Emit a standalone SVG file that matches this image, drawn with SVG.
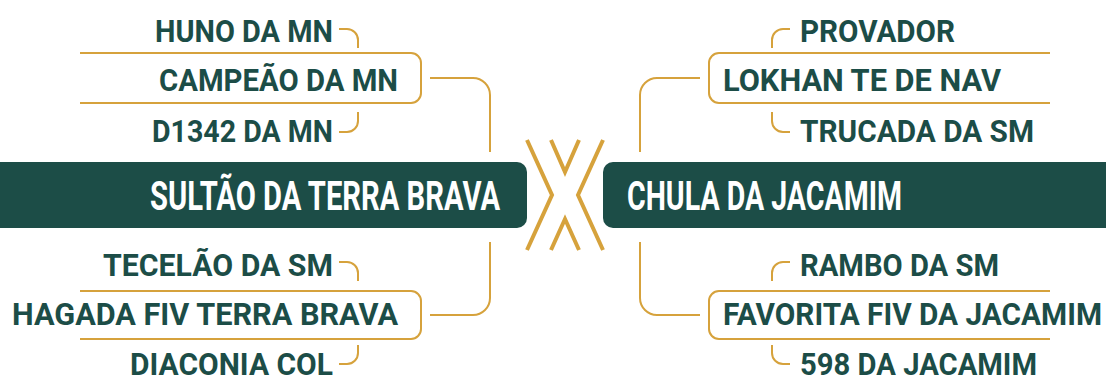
<svg xmlns="http://www.w3.org/2000/svg" width="1106" height="378" viewBox="0 0 1106 378">
<style>
.bg{fill:#ffffff}
.banner{fill:#1c4d47}
.main{font-family:Roboto,"Liberation Sans",sans-serif;font-weight:700;font-size:41px;fill:#ffffff}
.name{font-family:Roboto,"Liberation Sans",sans-serif;font-weight:700;font-size:32px;fill:#1c4d47}
.ln{fill:none;stroke:#d6a23c;stroke-width:2}
.x{fill:none;stroke:#d6a23c;stroke-width:4}
</style>
<rect class="bg" x="0" y="0" width="1106" height="378"/>
<g id="connectors">
  <path class="ln" d="M430,78 H473 A17,17 0 0 1 490,95 V152"/>
  <path class="ln" d="M490,242 V298 A17,17 0 0 1 473,315 H430"/>
  <path class="ln" d="M700,78 H657 A17,17 0 0 0 640,95 V152"/>
  <path class="ln" d="M640,242 V298 A17,17 0 0 0 657,315 H700"/>
  <path class="ln" d="M339,29 H347 A11,11 0 0 1 358,40 V48"/>
  <path class="ln" d="M358,112 V121 A11,11 0 0 1 347,132 H339"/>
  <path class="ln" d="M339,262 H347 A11,11 0 0 1 358,273 V281"/>
  <path class="ln" d="M358,345 V353 A11,11 0 0 1 347,364 H339"/>
  <path class="ln" d="M790,29 H783 A11,11 0 0 0 772,40 V48"/>
  <path class="ln" d="M772,112 V121 A11,11 0 0 0 783,132 H790"/>
  <path class="ln" d="M790,262 H783 A11,11 0 0 0 772,273 V281"/>
  <path class="ln" d="M772,345 V353 A11,11 0 0 0 783,364 H790"/>
</g>
<g id="versus">
  <polyline class="x" points="527,140 552,195 527,250"/>
  <polyline class="x" points="603,140 578,195 603,250"/>
  <polyline class="x" points="551,140 565,172 579,140"/>
  <polyline class="x" points="551,250 565,219 579,250"/>
</g>
<g id="sultao">
  <rect class="banner" x="-20" y="162" width="547" height="66" rx="10"/>
  <text class="main" x="500" y="210" text-anchor="end" textLength="350" lengthAdjust="spacingAndGlyphs">SULTÃO DA TERRA BRAVA</text>
</g>
<g id="chula">
  <rect class="banner" x="603" y="162" width="523" height="66" rx="10"/>
  <text class="main" x="627" y="210" textLength="275" lengthAdjust="spacingAndGlyphs">CHULA DA JACAMIM</text>
</g>
<g id="campeao">
  <path class="ln" d="M80,53 H411 A10,10 0 0 1 421,63 V93 A10,10 0 0 1 411,103 H80"/>
  <text class="name" x="398" y="91" text-anchor="end" textLength="239" lengthAdjust="spacingAndGlyphs">CAMPEÃO DA MN</text>
</g>
<g id="huno">
  <text class="name" x="333" y="42" text-anchor="end" textLength="178" lengthAdjust="spacingAndGlyphs">HUNO DA MN</text>
</g>
<g id="d1342">
  <text class="name" x="333" y="142" text-anchor="end" textLength="181" lengthAdjust="spacingAndGlyphs">D1342 DA MN</text>
</g>
<g id="hagada">
  <path class="ln" d="M80,291 H411 A10,10 0 0 1 421,301 V329 A10,10 0 0 1 411,339 H80"/>
  <text class="name" x="398" y="325" text-anchor="end" textLength="386" lengthAdjust="spacingAndGlyphs">HAGADA FIV TERRA BRAVA</text>
</g>
<g id="tecelao">
  <text class="name" x="333" y="276" text-anchor="end" textLength="230" lengthAdjust="spacingAndGlyphs">TECELÃO DA SM</text>
</g>
<g id="diaconia">
  <text class="name" x="333" y="375" text-anchor="end" textLength="203" lengthAdjust="spacingAndGlyphs">DIACONIA COL</text>
</g>
<g id="lokhan">
  <path class="ln" d="M1050,53 H719 A10,10 0 0 0 709,63 V93 A10,10 0 0 0 719,103 H1050"/>
  <text class="name" x="723" y="91" textLength="278" lengthAdjust="spacingAndGlyphs">LOKHAN TE DE NAV</text>
</g>
<g id="provador">
  <text class="name" x="800" y="42" textLength="155" lengthAdjust="spacingAndGlyphs">PROVADOR</text>
</g>
<g id="trucada">
  <text class="name" x="800" y="142" textLength="234" lengthAdjust="spacingAndGlyphs">TRUCADA DA SM</text>
</g>
<g id="favorita">
  <path class="ln" d="M1050,291 H719 A10,10 0 0 0 709,301 V329 A10,10 0 0 0 719,339 H1050"/>
  <text class="name" x="723" y="325" textLength="379" lengthAdjust="spacingAndGlyphs">FAVORITA FIV DA JACAMIM</text>
</g>
<g id="rambo">
  <text class="name" x="800" y="276" textLength="199" lengthAdjust="spacingAndGlyphs">RAMBO DA SM</text>
</g>
<g id="jacamim598">
  <text class="name" x="800" y="375" textLength="237" lengthAdjust="spacingAndGlyphs">598 DA JACAMIM</text>
</g>
</svg>
